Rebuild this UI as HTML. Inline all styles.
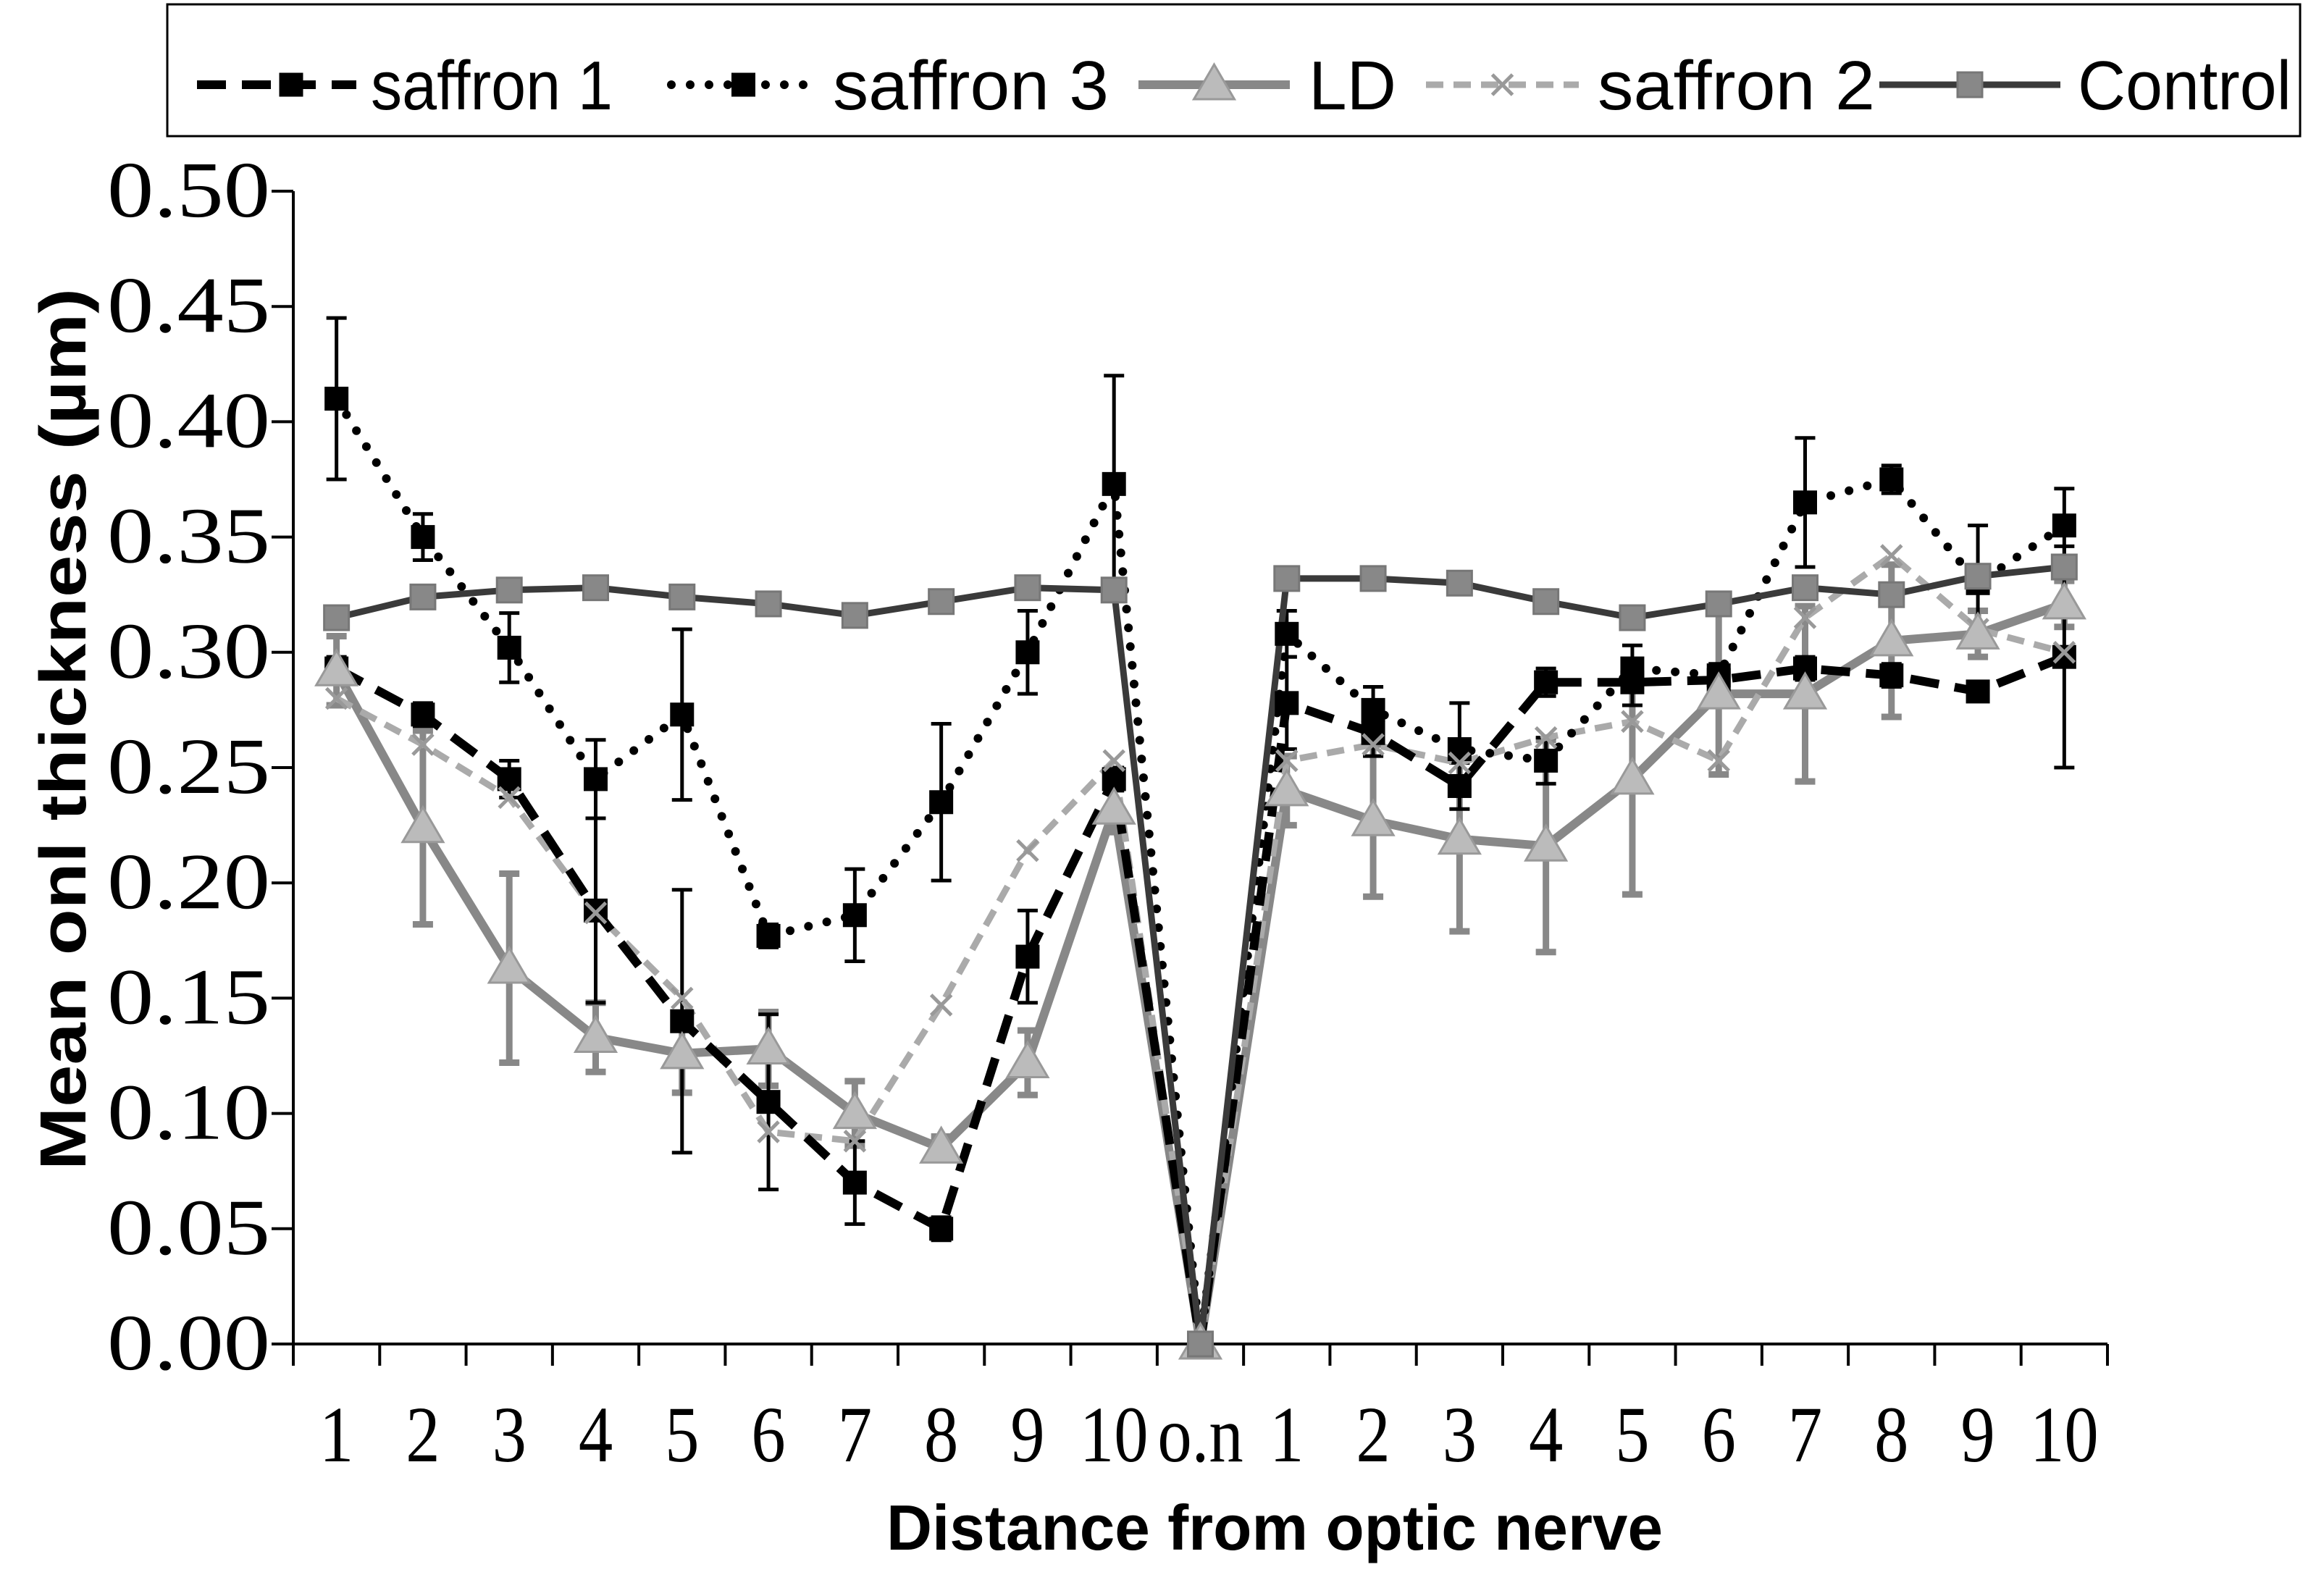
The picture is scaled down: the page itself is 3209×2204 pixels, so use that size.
<!DOCTYPE html>
<html><head><meta charset="utf-8"><style>
html,body{margin:0;padding:0;background:#fff}
svg{display:block}
text{font-family:"Liberation Sans",sans-serif}
.tk{font-family:"Liberation Serif",serif;font-size:110px;fill:#000}
</style></head><body>
<svg id="chart" width="3209" height="2204" viewBox="0 0 3209 2204" xmlns="http://www.w3.org/2000/svg">
<g id="legend">
<rect x="231" y="6" width="2945" height="182" fill="#fff" stroke="#000" stroke-width="3"/>
</g>
<g id="grid"></g>
<g id="series"></g>
<text x="0" y="0" transform="translate(118,1007) rotate(-90)" text-anchor="middle" font-size="90" font-weight="bold" textLength="1218" lengthAdjust="spacingAndGlyphs">Mean onl thickness (µm)</text>
<text x="1760" y="2140" text-anchor="middle" font-size="88" font-weight="bold" textLength="1072" lengthAdjust="spacingAndGlyphs">Distance from optic nerve</text>
</svg>
<script>
const categories=["1","2","3","4","5","6","7","8","9","10","o.n","1","2","3","4","5","6","7","8","9","10"];
const yTicks=[0,0.05,0.10,0.15,0.20,0.25,0.30,0.35,0.40,0.45,0.50];
const saffron1=[0.293,0.273,0.245,0.188,0.14,0.105,0.07,0.05,0.168,0.245,0,0.278,0.265,0.242,0.287,0.287,0.288,0.293,0.29,0.283,0.298];
const saffron1Err=[0.005,0.005,0.008,0.04,0.057,0.038,0.018,0.005,0.02,0.005,0,0.02,0.01,0.01,0.006,0.01,0.005,0.005,0.005,0.004,0.048];
const saffron3=[0.41,0.35,0.302,0.245,0.273,0.177,0.186,0.235,0.30,0.373,0,0.308,0.275,0.258,0.253,0.293,0.29,0.365,0.375,0.33,0.355];
const saffron3Err=[0.035,0.01,0.015,0.017,0.037,0.005,0.02,0.034,0.018,0.047,0,0.01,0.01,0.02,0.01,0.01,0.005,0.028,0.006,0.025,0.016];
const ld=[0.292,0.224,0.163,0.133,0.126,0.128,0.1,0.085,0.122,0.232,0,0.24,0.227,0.219,0.216,0.245,0.282,0.282,0.305,0.308,0.321];
const ldErr=[0.015,0.042,0.041,0.015,0.017,0.016,0.014,0.005,0.014,0.01,0,0.015,0.033,0.04,0.046,0.05,0.035,0.038,0.033,0.01,0.01];
const saffron2=[0.28,0.26,0.237,0.187,0.15,0.092,0.088,0.147,0.214,0.253,0,0.253,0.26,0.252,0.263,0.27,0.253,0.315,0.342,0.31,0.3];
const control=[0.315,0.324,0.327,0.328,0.324,0.321,0.316,0.322,0.328,0.327,0,0.332,0.332,0.33,0.322,0.315,0.321,0.328,0.325,0.333,0.337];

const NS="http://www.w3.org/2000/svg";
const X0=405,X1=2910,Y0=1856,Y1=264;
const step=(X1-X0)/categories.length;
function xs(i){return X0+step*(i+0.5);}
function ys(v){return Y0-(v/0.5)*(Y0-Y1);}
function mk(tag,attrs,parent){const e=document.createElementNS(NS,tag);for(const k in attrs)e.setAttribute(k,attrs[k]);parent.appendChild(e);return e;}
const grid=document.getElementById('grid');
const ser=document.getElementById('series');
const leg=document.getElementById('legend');

let a=mk('line',{x1:X0,y1:Y1,x2:X0,y2:Y0,stroke:'#000','stroke-width':4},grid);


a=mk('line',{x1:X0-30,y1:Y0,x2:X1,y2:Y0,stroke:'#000','stroke-width':4},grid);


yTicks.forEach(v=>{
  const l=mk('line',{x1:X0-30,y1:ys(v),x2:X0,y2:ys(v),stroke:'#000','stroke-width':4},grid);
  
  
  const t=mk('text',{x:X0-32,y:ys(v)+35,'text-anchor':'end',class:'tk',textLength:225,lengthAdjust:'spacingAndGlyphs'},grid);
  t.textContent=v.toFixed(2);
  
  
});
for(let i=0;i<=categories.length;i++){
  const l=mk('line',{x1:X0+step*i,y1:Y0,x2:X0+step*i,y2:Y0+30,stroke:'#000','stroke-width':4},grid);
  
  
}
categories.forEach((c,i)=>{
  const t=mk('text',{x:0,y:0,'text-anchor':'middle',class:'tk',transform:`translate(${xs(i)},${Y0+162}) scale(0.86,1)`},grid);
  t.textContent=c;
  
  
});

function errBars(vals,errs,color,w,name){
  const g=mk('g',{},ser);
  
  
  vals.forEach((v,i)=>{
    if(!errs[i])return;
    const x=xs(i);
    mk('line',{x1:x,y1:ys(v-errs[i]),x2:x,y2:ys(v+errs[i]),stroke:color,'stroke-width':w},g);
    mk('line',{x1:x-14,y1:ys(v-errs[i]),x2:x+14,y2:ys(v-errs[i]),stroke:color,'stroke-width':w},g);
    mk('line',{x1:x-14,y1:ys(v+errs[i]),x2:x+14,y2:ys(v+errs[i]),stroke:color,'stroke-width':w},g);
  });
}
function line(vals,stroke,w,dash,cap,name){
  const d=vals.map((v,i)=>(i?'L':'M')+xs(i).toFixed(1)+' '+ys(v).toFixed(1)).join(' ');
  const p=mk('path',{d:d,fill:'none',stroke:stroke,'stroke-width':w,'stroke-dasharray':dash||'none','stroke-linecap':cap||'butt','stroke-linejoin':'round'},ser);
  
  
}
function marker(type,x,y,fill,stroke,parent){
  if(type==='sq')return mk('rect',{x:x-15,y:y-15,width:30,height:30,fill:fill,stroke:stroke,'stroke-width':3},parent);
  if(type==='tri')return mk('path',{d:`M${x} ${y-28}L${x+28} ${y+20}L${x-28} ${y+20}Z`,fill:fill,stroke:stroke,'stroke-width':3},parent);
  if(type==='x')return mk('path',{d:`M${x-14} ${y-14}L${x+14} ${y+14}M${x+14} ${y-14}L${x-14} ${y+14}`,stroke:fill,'stroke-width':5,fill:'none'},parent);
  if(type==='csq')return mk('rect',{x:x-17,y:y-17,width:34,height:34,fill:fill,stroke:stroke,'stroke-width':3},parent);
}
function markers(vals,type,fill,stroke,name){
  const g=mk('g',{},ser);
  
  
  vals.forEach((v,i)=>{marker(type,xs(i),ys(v),fill,stroke,g);});
}

errBars(ld,ldErr,'#888',9,'ld-error-bars');
errBars(saffron3,saffron3Err,'#000',5,'saffron3-error-bars');
errBars(saffron1,saffron1Err,'#000',5,'saffron1-error-bars');
line(ld,'#888',12,null,null,'ld-line');
line(saffron2,'#aaa',9,'24 14',null,'saffron2-line');
line(saffron1,'#000',12,'40 22',null,'saffron1-line');
line(saffron3,'#000',12,'0 26','round','saffron3-line');
line(control,'#3a3a3a',9,null,null,'control-line');
markers(saffron1,'sq','#000','#000','saffron1-markers');
markers(saffron3,'sq','#000','#000','saffron3-markers');
markers(saffron2,'x','#999','#999','saffron2-markers');
markers(ld,'tri','#bbb','#999','ld-markers');
markers(control,'csq','#888','#777','control-markers');

const legItems=[
 {name:'saffron 1',x1:272,x2:492,tx:512,tl:334,stroke:'#000',w:12,dash:'40 22',cap:'butt',m:'sq',mf:'#000',ms:'#000'},
 {name:'saffron  3',x1:927,x2:1126,tx:1150,tl:381,stroke:'#000',w:12,dash:'0 26',cap:'round',m:'sq',mf:'#000',ms:'#000'},
 {name:'LD',x1:1572,x2:1781,tx:1807,tl:121,stroke:'#888',w:12,dash:'none',cap:'butt',m:'tri',mf:'#bbb',ms:'#999'},
 {name:'saffron  2',x1:1969,x2:2180,tx:2206,tl:383,stroke:'#aaa',w:9,dash:'24 14',cap:'butt',m:'x',mf:'#999',ms:'#999'},
 {name:'Control',x1:2595,x2:2845,tx:2869,tl:295,stroke:'#3a3a3a',w:9,dash:'none',cap:'butt',m:'csq',mf:'#888',ms:'#777'}
];
legItems.forEach(it=>{
  const g=mk('g',{},leg);
  
  
  mk('line',{x1:it.x1,y1:117,x2:it.x2,y2:117,stroke:it.stroke,'stroke-width':it.w,'stroke-dasharray':it.dash,'stroke-linecap':it.cap},g);
  marker(it.m,(it.x1+it.x2)/2+(it.name==='saffron 1'?20:0),117,it.mf,it.ms,g);
  const t=mk('text',{x:it.tx,y:151,'font-size':96,fill:'#000',textLength:it.tl,lengthAdjust:'spacingAndGlyphs'},g);
  t.textContent=it.name;
});
</script>
</body></html>
